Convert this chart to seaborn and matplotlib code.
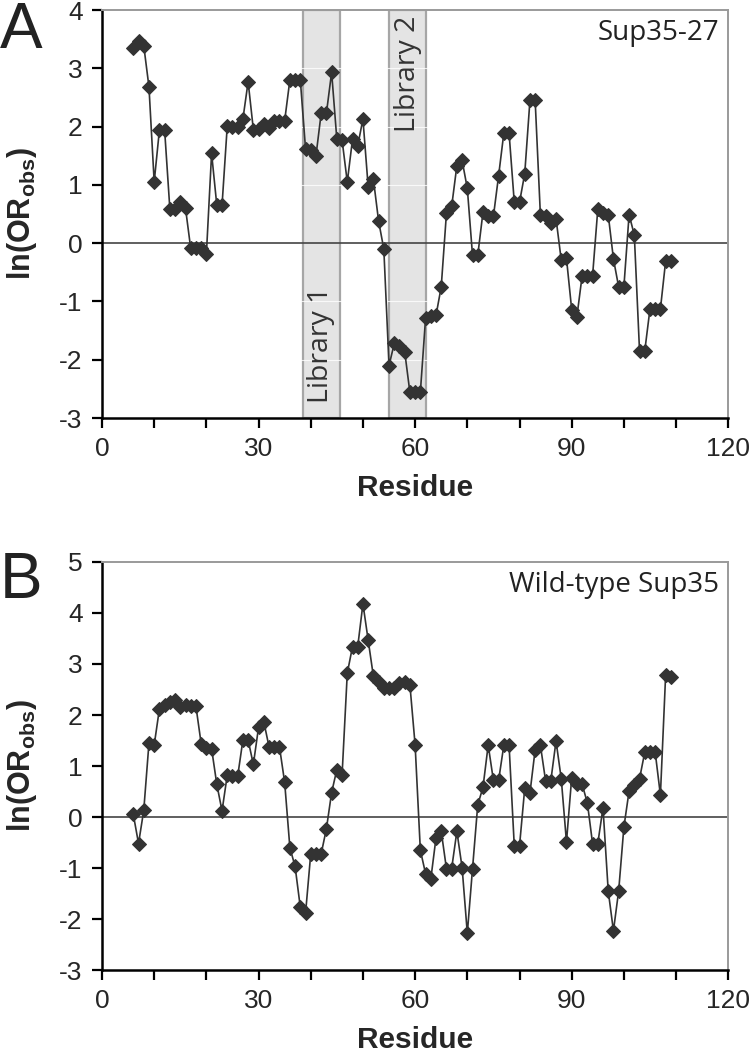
import matplotlib
matplotlib.use("Agg")
import matplotlib.pyplot as plt
import seaborn as sns
import numpy as np
from matplotlib.ticker import MultipleLocator

# residue numbers (same for both panels)
residues = list(range(6, 110))

# panel A: Sup35-27
sup35_27 = [3.35, 3.46, 3.39, 2.68, 1.05, 1.94, 1.94, 0.59, 0.58, 0.71,
            0.60, -0.09, -0.09, -0.08, -0.19, 1.54, 0.65, 0.65, 2.01, 2.00,
            2.00, 2.13, 2.77, 1.95, 1.96, 2.05, 1.98, 2.09, 2.10, 2.10,
            2.80, 2.80, 2.80, 1.62, 1.60, 1.50, 2.23, 2.23, 2.93, 1.78,
            1.77, 1.05, 1.78, 1.67, 2.13, 0.97, 1.10, 0.38, -0.10, -2.10,
            -1.72, -1.77, -1.86, -2.56, -2.56, -2.56, -1.29, -1.25, -1.24, -0.75,
            0.51, 0.63, 1.33, 1.42, 0.94, -0.21, -0.21, 0.53, 0.46, 0.46,
            1.16, 1.89, 1.89, 0.70, 0.70, 1.19, 2.45, 2.45, 0.49, 0.46,
            0.35, 0.42, -0.29, -0.26, -1.14, -1.26, -0.56, -0.56, -0.56, 0.58,
            0.51, 0.49, -0.27, -0.75, -0.75, 0.49, 0.14, -1.85, -1.85, -1.13,
            -1.13, -1.13, -0.31, -0.31]

# panel B: wild-type Sup35
wild_type = [0.05, -0.52, 0.13, 1.45, 1.41, 2.12, 2.19, 2.26, 2.29, 2.15,
             2.19, 2.17, 2.17, 1.44, 1.36, 1.34, 0.64, 0.12, 0.82, 0.80,
             0.80, 1.51, 1.51, 1.03, 1.76, 1.87, 1.38, 1.38, 1.38, 0.68,
             -0.60, -0.97, -1.77, -1.89, -0.72, -0.72, -0.72, -0.23, 0.48, 0.93,
             0.82, 2.82, 3.34, 3.34, 4.18, 3.47, 2.76, 2.65, 2.52, 2.52,
             2.52, 2.62, 2.65, 2.59, 1.41, -0.65, -1.11, -1.22, -0.41, -0.28,
             -1.01, -1.01, -0.28, -0.99, -2.28, -1.01, 0.24, 0.58, 1.41, 0.72,
             0.72, 1.41, 1.41, -0.57, -0.57, 0.56, 0.47, 1.32, 1.41, 0.71,
             0.71, 1.49, 0.75, -0.49, 0.77, 0.64, 0.64, 0.28, -0.52, -0.52,
             0.18, -1.45, -2.23, -1.45, -0.20, 0.51, 0.62, 0.75, 1.27, 1.27,
             1.27, 0.43, 2.78, 2.75]

libraries = ["Library 1", "Library 2"]
library_spans = [(38.5, 45.6), (55.0, 62.1)]
library_text_y = [-1.75, 2.9]

sns.set_style("ticks")
plt.rcParams["font.family"] = ["Liberation Sans", "DejaVu Sans"]
plt.rcParams["axes.unicode_minus"] = False
plt.rcParams["mathtext.fontset"] = "custom"
plt.rcParams["mathtext.rm"] = "Liberation Sans"
plt.rcParams["mathtext.bf"] = "Liberation Sans:bold"

fig = plt.figure(figsize=(7.5, 10.53), dpi=100)
ax_a = fig.add_axes([0.136, 0.603, 0.835, 0.3875])
ax_b = fig.add_axes([0.136, 0.0788, 0.835, 0.3875])

line_col = "#333333"
label_font = "Open Sans"


def style_axis(ax, ylim, yticks, tag):
    ax.set_xlim(0, 120)
    ax.set_ylim(*ylim)
    ax.xaxis.set_major_locator(MultipleLocator(30))
    ax.xaxis.set_minor_locator(MultipleLocator(10))
    ax.set_yticks(yticks)
    ax.set_yticklabels([str(t) for t in yticks])
    ax.tick_params(axis="both", which="both", direction="out", length=7,
                   width=1.6, color="black", labelsize=19, pad=7)
    ax.tick_params(axis="x", which="minor", labelbottom=False)
    for side in ["left", "bottom"]:
        ax.spines[side].set_color("black")
        ax.spines[side].set_linewidth(1.8)
    for side in ["top", "right"]:
        ax.spines[side].set_visible(True)
        ax.spines[side].set_color("#9a9a9a")
        ax.spines[side].set_linewidth(1.4)
    ax.axhline(0, color="#444444", lw=1.2, zorder=1)
    ax.set_xlabel("Residue", fontsize=21.5, fontweight="bold")
    ax.set_ylabel(r"ln(OR$_{\mathbf{obs}}$)", fontsize=22, fontweight="bold")
    ax.xaxis.set_label_coords(0.5, -0.136)
    ax.yaxis.set_label_coords(-0.1, 0.5)
    ax.text(0.985, 0.978, tag, transform=ax.transAxes, ha="right", va="top",
            fontsize=20, family=label_font, color="#222222")


# panel A with library shading
for (lo, hi), name, ty in zip(library_spans, libraries, library_text_y):
    ax_a.axvspan(lo, hi, facecolor="#e4e4e4", edgecolor="#a6a6a6", lw=1.6, zorder=0)
    ax_a.text((lo + hi) / 2, ty, name, rotation=90, ha="center", va="center",
              fontsize=20.5, family=label_font, color="#333333", zorder=1)
for yv in [-2, -1, 1, 2, 3]:
    ax_a.axhline(yv, color="white", lw=0.8, alpha=0.8, zorder=0.5)

sns.lineplot(x=residues, y=sup35_27, ax=ax_a, color=line_col, lw=1.2,
             marker="D", markersize=7.5, markeredgecolor=line_col, zorder=3)
style_axis(ax_a, (-3, 4), list(range(-3, 5)), "Sup35-27")

sns.lineplot(x=residues, y=wild_type, ax=ax_b, color=line_col, lw=1.2,
             marker="D", markersize=7.5, markeredgecolor=line_col, zorder=3)
style_axis(ax_b, (-3, 5), list(range(-3, 6)), "Wild-type Sup35")

fig.text(0.0, 0.999, "A", fontsize=46, va="top", ha="left", color="#222222")
fig.text(0.0, 0.477, "B", fontsize=46, va="top", ha="left", color="#222222")

fig.savefig("out.png", dpi=100)
